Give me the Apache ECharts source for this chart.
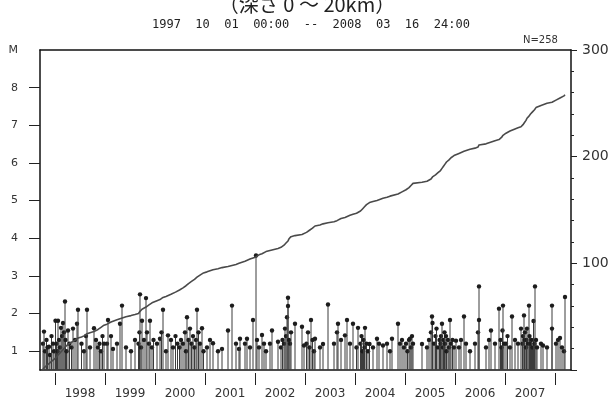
<!DOCTYPE html>
<html>
<head>
<meta charset="utf-8">
<script src="https://cdn.jsdelivr.net/npm/echarts@6/dist/echarts.min.js"></script>
<style>
  html, body { margin: 0; padding: 0; background: #fff; }
  #chart { width: 614px; height: 400px; }
</style>
</head>
<body>
<div id="chart"></div>
<script>
// Earthquake catalogue, depth 0-20 km, 1997-10-01 .. 2008-03-16.
// Each entry: [fraction of the year, magnitude].
const q1997 = [[.76,1.2],[.78,1.52],[.80,1.0],[.83,1.3],[.85,1.1],[.88,1.12],[.90,0.9],[.93,1.4],[.96,1.2],[.98,1.0]];
const q1998 = [[.01,1.81],[.03,1.2],[.05,1.0],[.06,1.81],[.08,1.3],[.10,1.1],[.12,1.62],[.14,1.4],[.16,1.75],[.18,1.5],
               [.20,2.32],[.21,1.3],[.23,1.0],[.26,1.55],[.29,1.2],[.33,1.1],[.36,1.6],[.40,1.3],[.44,1.73],[.46,2.1],
               [.53,1.2],[.58,1.0],[.62,1.4],[.64,2.1],[.70,1.1],[.78,1.61],
               [.82,1.3],[.86,1.1],[.89,1.2],[.92,1.0],[.95,1.4],[.98,1.2]];
const q1999 = [[.04,1.2],[.06,1.83],[.12,1.4],[.16,1.06],[.24,1.2],[.30,1.73],[.34,2.21],
               [.42,1.1],[.52,1.0],[.60,1.3],
               [.67,1.2],[.69,1.5],[.70,2.51],[.72,1.1],[.74,1.81],
               [.78,1.3],[.82,2.41],[.84,1.5],[.88,1.2],[.90,1.81],[.94,1.1],[.97,1.3]];
const q2000 = [[.04,1.2],[.10,1.33],[.13,1.5],[.16,2.1],[.22,1.0],[.26,1.42],
               [.32,1.3],[.36,1.1],[.41,1.4],[.45,1.2],[.49,1.1],
               [.52,1.3],[.56,1.2],[.60,1.5],[.62,1.0],[.64,1.9],[.67,1.3],[.70,1.6],
               [.73,1.2],[.76,1.4],[.79,1.1],[.82,1.3],[.84,2.1],[.87,1.5],[.90,1.2],[.94,1.61],[.97,1.0]];
const q2001 = [[.04,1.1],[.10,1.3],[.16,1.21],[.26,1.0],[.34,1.06],[.46,1.55],
               [.54,2.21],[.62,1.2],[.68,1.06],[.70,1.33],
               [.80,1.2],[.84,1.33],[.90,1.1],[.96,1.83]];
const q2002 = [[.02,3.54],[.04,1.3],[.08,1.1],[.14,1.43],[.18,1.2],[.22,1.0],
               [.30,1.2],[.34,1.55],[.46,1.25],
               [.52,1.1],[.55,1.3],[.58,1.2],[.60,1.6],[.62,1.4],[.64,1.9],[.66,2.42],[.66,2.2],[.68,1.3],[.70,1.2],[.72,1.5],
               [.80,1.73],[.94,1.65],[.98,1.15]];
const q2003 = [[.03,1.2],[.06,1.5],[.09,1.1],[.12,1.83],[.15,1.3],[.18,1.0],[.20,1.33],
               [.30,1.1],[.36,1.19],[.46,2.24],
               [.58,1.2],[.64,1.5],[.66,1.73],[.72,1.3],
               [.80,1.42],[.84,1.83],[.90,1.2],[.96,1.73]];
const q2004 = [[.03,1.1],[.06,1.62],
               [.11,1.2],[.13,1.4],[.15,1.0],[.17,1.3],[.19,1.1],[.20,1.62],[.23,1.2],[.26,1.0],[.29,1.19],
               [.36,1.1],[.44,1.33],[.48,1.2],
               [.56,1.15],[.64,1.2],[.70,1.0],[.74,1.33],
               [.86,1.73],[.90,1.2],[.94,1.3],[.98,1.1]];
const q2005 = [[.02,1.2],[.05,1.0],[.08,1.3],[.10,1.33],[.12,1.1],[.14,1.4],[.16,1.2],
               [.34,1.19],
               [.44,1.1],[.48,1.3],[.52,1.5],[.54,1.92],[.55,1.75],
               [.58,1.2],[.61,1.4],[.63,1.6],[.66,1.1],[.69,1.3],
               [.71,1.2],[.72,1.4],[.74,1.73],[.76,1.1],[.77,1.3],[.79,1.5],[.80,1.2],[.82,1.4],[.83,1.0],
               [.86,1.3],[.88,1.1],[.90,1.83],[.92,1.2],[.95,1.3],[.98,1.1]];
const q2006 = [[.02,1.28],[.08,1.1],[.12,1.3],[.18,1.92],[.22,1.2],
               [.30,1.0],[.40,1.2],[.46,1.5],[.48,2.72],[.48,1.83],
               [.62,1.1],[.68,1.3],[.72,1.55],[.80,1.2],[.88,2.13],
               [.91,1.3],[.93,1.1],[.95,1.55],[.96,2.21],[.98,1.2]];
const q2007 = [[.02,1.2],[.05,1.4],
               [.10,1.1],[.14,1.92],[.20,1.3],[.26,1.2],[.32,1.6],
               [.35,1.2],[.36,1.4],[.38,1.95],[.39,1.3],[.40,1.5],[.42,1.1],[.43,1.3],[.44,1.6],[.46,1.2],[.48,2.21],[.49,1.4],
               [.51,1.2],[.53,1.3],[.55,1.1],[.57,1.8],[.59,1.2],[.60,2.72],[.62,1.3],[.64,1.1],
               [.72,1.2],[.76,1.15],[.84,1.1],
               [.94,2.21],[.94,1.6]];
const q2008 = [[.02,1.2],[.06,1.3],[.10,1.35],[.14,1.1],[.18,1.0],[.20,2.44]];

// Period covered (decimal years) and axis ranges
const periodStart = 1997.75;   // 1997-10-01 00:00
const periodEnd = 2008.21;     // 2008-03-16 24:00
const timeMin = 1997.7, timeMax = 2008.32;
const magMin = 0.5, magMax = 9;
const countMax = 300;

// Axis ticks and labels
const yearTicks = [1998, 1999, 2000, 2001, 2002, 2003, 2004, 2005, 2006, 2007, 2008];
const yearLabels = [1998, 1999, 2000, 2001, 2002, 2003, 2004, 2005, 2006, 2007];
const magTicks = [1, 2, 3, 4, 5, 6, 7, 8];

const titleText = '（深さ 0 ～ 20km）';
const periodText = '1997  10  01  00:00  --  2008  03  16  24:00';

// Flatten the yearly lists into [time, magnitude] events
const byYear = [[1997, q1997], [1998, q1998], [1999, q1999], [2000, q2000], [2001, q2001], [2002, q2002],
                [2003, q2003], [2004, q2004], [2005, q2005], [2006, q2006], [2007, q2007], [2008, q2008]];
const events = [];
byYear.forEach(([yr, list]) => list.forEach(([f, m]) => events.push([yr + f, m])));
events.sort((a, b) => a[0] - b[0]);

// Cumulative number of events
const cumulative = [[periodStart, 0]];
events.forEach((e, i) => cumulative.push([e[0], i + 1]));
cumulative.push([periodEnd, events.length]);

const chart = echarts.init(document.getElementById('chart'));
const labelFont = { fontFamily: 'DejaVu Sans', fontSize: 12, color: '#333' };

chart.setOption({
  animation: false,
  backgroundColor: '#fff',
  title: [
    { text: titleText, left: 'center', top: -11,
      textStyle: { fontFamily: 'Noto Sans CJK JP', fontSize: 20, fontWeight: 'normal', color: '#222' } },
    { text: periodText, left: 147, top: 14,
      textStyle: { fontFamily: 'DejaVu Sans Mono', fontSize: 12, fontWeight: 'normal', color: '#222' } },
    { text: 'N=' + events.length, left: 518, top: 30,
      textStyle: { fontFamily: 'DejaVu Sans', fontSize: 10, fontWeight: 'normal', color: '#333' } }
  ],
  grid: { left: 40, right: 43, top: 50, bottom: 30, containLabel: false },
  xAxis: [
    { type: 'value', position: 'bottom', min: timeMin, max: timeMax,
      axisLine: { show: true, lineStyle: { color: '#111', width: 1.5 } },
      axisTick: { show: false }, axisLabel: { show: false }, splitLine: { show: false } },
    { type: 'value', position: 'top', min: timeMin, max: timeMax,
      axisLine: { show: true, lineStyle: { color: '#111', width: 1.5 } },
      axisTick: { show: false }, axisLabel: { show: false }, splitLine: { show: false } },
    { type: 'value', position: 'bottom', offset: 3, min: timeMin, max: timeMax,
      axisLine: { show: false },
      axisTick: { show: true, customValues: yearTicks, length: 12, lineStyle: { color: '#222', width: 1 } },
      axisLabel: { show: true, customValues: yearLabels.map(y => y + 0.5), margin: 15,
                   formatter: v => String(Math.floor(v)), ...labelFont },
      splitLine: { show: false } }
  ],
  yAxis: [
    { type: 'value', position: 'left', min: magMin, max: magMax,
      axisLine: { show: true, lineStyle: { color: '#111', width: 1.5 } },
      axisTick: { show: true, customValues: magTicks, length: 11, lineStyle: { color: '#222' } },
      axisLabel: { show: true, customValues: magTicks.concat([magMax]), margin: 22,
                   formatter: v => (v === magMax ? 'M' : String(v)), ...labelFont, fontSize: 11 },
      splitLine: { show: false } },
    { type: 'value', position: 'right', min: 0, max: countMax, interval: 100,
      axisLine: { show: true, lineStyle: { color: '#111', width: 1.5 } },
      axisTick: { show: true, length: 6, lineStyle: { color: '#222' } },
      minorTick: { show: true, splitNumber: 5, length: 3, lineStyle: { color: '#222' } },
      axisLabel: { show: true, margin: 11, formatter: v => (v === 0 ? '' : String(v)), ...labelFont, fontSize: 14 },
      splitLine: { show: false } }
  ],
  series: [
    {
      type: 'custom',
      name: 'magnitude',
      xAxisIndex: 0, yAxisIndex: 0,
      clip: true,
      data: events,
      renderItem: (params, api) => {
        const t = api.value(0), m = api.value(1);
        const top = api.coord([t, m]);
        const base = api.coord([t, magMin]);
        return {
          type: 'group',
          children: [
            { type: 'line', shape: { x1: top[0], y1: base[1], x2: top[0], y2: top[1] },
              style: { stroke: '#3c3c3c', lineWidth: 1 } },
            { type: 'circle', shape: { cx: top[0], cy: top[1], r: 2.2 },
              style: { fill: '#1c1c1c' } }
          ]
        };
      }
    },
    {
      type: 'line',
      name: 'cumulative',
      xAxisIndex: 0, yAxisIndex: 1,
      data: cumulative,
      showSymbol: false,
      lineStyle: { color: '#4a4a4a', width: 1.6 },
      z: 3
    }
  ]
});
</script>
</body>
</html>
